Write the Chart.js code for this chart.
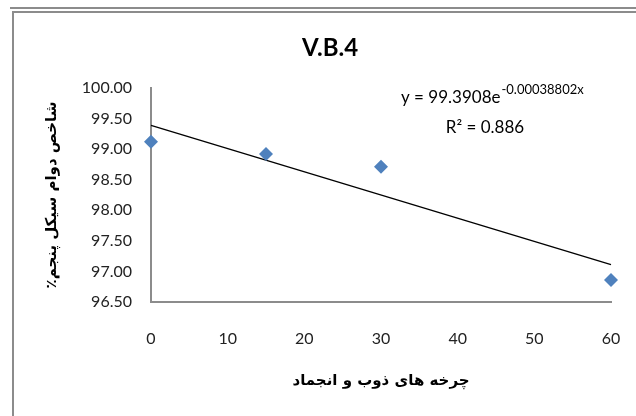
<!DOCTYPE html>
<html lang="en">
<head>
<meta charset="UTF-8">
<title>V.B.4</title>
<script src="https://cdn.jsdelivr.net/npm/chart.js@4.4.0/dist/chart.umd.min.js"></script>
<style>
    body { margin: 0; background: #fff; }
    #wrap { position: relative; width: 636px; height: 416px; overflow: hidden; }
    .topline { position: absolute; left: 10px; right: 0; top: 7px; height: 2px; background: #8c8c8c; }
    .frame { position: absolute; left: 12px; top: 11px; width: 640px; height: 420px; border: 2px solid #8c8c8c; }
    canvas { position: absolute; left: 0; top: 0; }
</style>
</head>
<body>
<div id="wrap">
    <div class="topline"></div>
    <div class="frame"></div>
    <canvas id="chart" width="636" height="416"></canvas>
</div>

<script>
// data
const cycles = [0, 15, 30, 60];
const durability = [99.12, 98.92, 98.71, 96.86];
// exponential trendline end points (y = 99.3908e^-0.00038802x)
const trendX = [0, 60];
const trendY = [99.39, 97.11];

const chartTitle = 'V.B.4';
const xTitle = 'چرخه های ذوب و انجماد';
// RLM marks keep the percent sign at the end of the right-to-left text
const yTitle = '\u200Fشاخص دوام سیکل پنجم٪\u200F';
const eqMain = 'y = 99.3908e';
const eqSup = '-0.00038802x';
const r2Text = 'R² = 0.886';

const numFont = 'Lato, "Open Sans", sans-serif';
const arFont = '"DejaVu Sans", sans-serif';

// title and trendline label, Excel style
const textPlugin = {
    id: 'texts',
    afterDraw(chart) {
        const ctx = chart.ctx;
        ctx.save();
        ctx.fillStyle = '#000';
        ctx.textBaseline = 'alphabetic';
        ctx.textAlign = 'center';
        ctx.font = 'bold 24px ' + numFont;
        ctx.fillText(chartTitle, 330, 56);

        ctx.textAlign = 'left';
        ctx.font = '17px ' + numFont;
        ctx.fillText(eqMain, 401, 103);
        const w = ctx.measureText(eqMain).width;
        ctx.font = '13px ' + numFont;
        ctx.fillText(eqSup, 401 + w + 1, 94);

        ctx.textAlign = 'center';
        ctx.font = '17px ' + numFont;
        ctx.fillText(r2Text, 485, 133);
        ctx.restore();
    }
};

new Chart(document.getElementById('chart'), {
    type: 'scatter',
    data: {
        datasets: [{
            label: 'data',
            data: cycles.map((x, i) => ({x: x, y: durability[i]})),
            pointStyle: 'rectRot',
            pointRadius: 7,
            pointBackgroundColor: '#4f81bd',
            pointBorderColor: '#4f81bd',
            pointBorderWidth: 0,
            clip: false,
            order: 1
        }, {
            label: 'trend',
            type: 'line',
            data: trendX.map((x, i) => ({x: x, y: trendY[i]})),
            borderColor: '#000',
            borderWidth: 1.3,
            pointRadius: 0,
            fill: false,
            clip: false,
            order: 2
        }]
    },
    options: {
        responsive: false,
        animation: false,
        layout: { padding: { left: 14, right: 25, top: 88, bottom: 20 } },
        plugins: {
            legend: { display: false },
            tooltip: { enabled: false }
        },
        scales: {
            x: {
                type: 'linear',
                min: 0, max: 60,
                // hidden tick marks give the gap under the axis (tick padding would shrink the plot width)
                grid: { display: false, drawTicks: true, tickLength: 24 },
                border: { display: true, color: '#8c8c8c', width: 2 },
                ticks: { stepSize: 10, padding: 3, color: '#222', font: { family: numFont, size: 16 } },
                title: { display: true, text: xTitle, color: '#000', padding: { top: 0, bottom: 6 },
                         font: { family: arFont, size: 15, weight: 'bold' } },
                afterFit(scale) { scale.height = 94; }
            },
            y: {
                min: 96.5, max: 100,
                grid: { display: false, drawTicks: false },
                border: { display: true, color: '#8c8c8c', width: 2 },
                ticks: { stepSize: 0.5, padding: 19, color: '#222', font: { family: numFont, size: 16 },
                         callback: v => v.toFixed(2) },
                title: { display: true, text: yTitle, color: '#000', padding: { top: 29, bottom: 0 },
                         font: { family: arFont, size: 15, weight: 'bold' } },
                afterFit(scale) { scale.width = 137; }
            }
        }
    },
    plugins: [textPlugin]
});
</script>
</body>
</html>
